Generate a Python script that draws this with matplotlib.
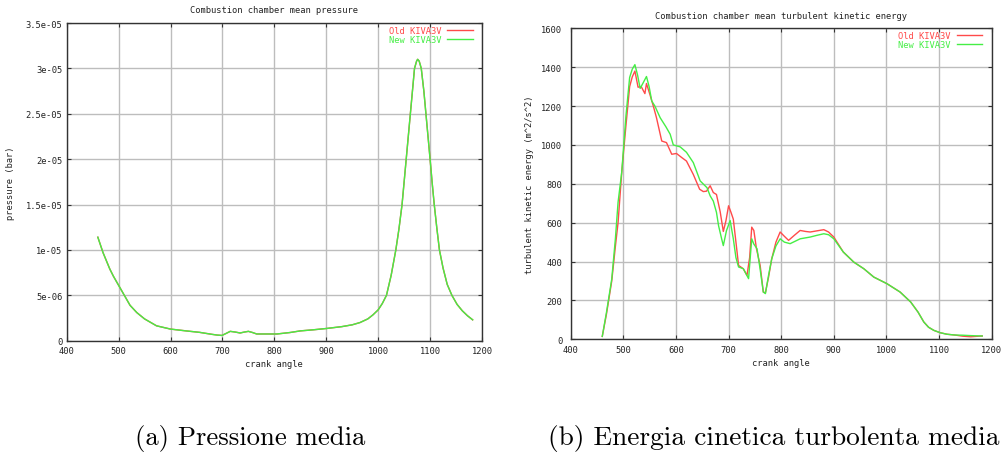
import matplotlib
matplotlib.use("Agg")
import matplotlib.pyplot as plt
import numpy as np

# ---------------- data ----------------
# (a) mean pressure (bar), both runs
p_angle = [460, 470, 483, 490, 501, 510, 522, 535, 550, 573, 600, 630, 656, 680, 690, 699,
           707, 715, 725, 734, 742, 750, 758, 766, 785, 805, 830, 850, 875, 901, 930,
           950, 965, 980, 990, 1000, 1008, 1016, 1025, 1034, 1040, 1046, 1054, 1062,
           1070, 1074, 1076, 1079, 1083, 1088, 1092, 1096, 1100, 1104, 1108, 1113,
           1118, 1125, 1133, 1142, 1152, 1162, 1172, 1182]
p_old = [11.4, 9.7, 7.9, 7.1, 6.0, 5.1, 3.9, 3.1, 2.4, 1.64, 1.28, 1.08, 0.92, 0.70, 0.62, 0.58,
         0.80, 1.03, 0.95, 0.85, 0.95, 1.03, 0.90, 0.74, 0.74, 0.74, 0.90, 1.08, 1.20, 1.35, 1.55,
         1.75, 2.00, 2.40, 2.85, 3.4, 4.1, 5.0, 7.2, 10.0, 12.3, 15.0, 20.0, 25.0,
         30.0, 30.8, 31.0, 30.8, 30.0, 27.5, 25.0, 22.5, 20.0, 17.4, 15.0, 12.4,
         10.0, 8.0, 6.2, 5.0, 4.0, 3.3, 2.75, 2.3]
p_new = list(p_old)

# (b) mean turbulent kinetic energy (m^2/s^2)
k_angle_old = [460, 468, 478, 485, 490, 497, 505, 512, 517, 522, 528, 534, 541, 544, 551, 557,
               563, 568, 573, 582, 592, 601, 611, 620, 633, 645, 652, 658, 665, 671, 677,
               684, 690, 695, 700, 705, 709, 714, 719, 728, 735, 740, 744, 748, 753, 760,
               766, 770, 776, 782, 790, 798, 806, 814, 825, 836, 846, 855, 868, 881, 890,
               900, 918, 938, 957, 976, 1001, 1026, 1046, 1060, 1071, 1080, 1090, 1102,
               1115, 1130, 1145, 1160, 1170, 1182]
k_old = [15, 130, 300, 480, 600, 860, 1100, 1300, 1350, 1380, 1297, 1300, 1264, 1316, 1255, 1200,
         1140, 1080, 1020, 1012, 952, 956, 935, 917, 848, 772, 760, 762, 790, 755, 745,
         657, 555, 610, 687, 650, 618, 500, 380, 363, 329, 420, 577, 560, 466, 380,
         243, 240, 320, 414, 500, 552, 530, 509, 535, 560, 555, 552, 558, 564, 552,
         526, 449, 397, 363, 320, 286, 243, 192, 140, 89, 62, 46, 34,
         26, 22, 16, 13, 15, 17]
k_angle_new = [460, 468, 478, 485, 490, 497, 505, 512, 517, 522, 527, 532, 537, 544, 549, 554,
               560, 570, 581, 589, 595, 608, 620, 633, 646, 659, 665, 671, 677, 681, 687,
               690, 696, 703, 709, 714, 719, 728, 738, 744, 748, 754, 760, 766, 770, 776,
               782, 790, 798, 806, 817, 836, 855, 868, 881, 890, 900, 918, 938, 957, 976,
               1001, 1026, 1046, 1060, 1071, 1080, 1090, 1102, 1115, 1130, 1145, 1160,
               1170, 1182]
k_new = [15, 139, 310, 520, 705, 860, 1150, 1347, 1390, 1413, 1360, 1291, 1316, 1352, 1300, 1226,
         1200, 1140, 1093, 1055, 1000, 990, 962, 909, 815, 780, 738, 711, 653, 584, 515,
         482, 559, 611, 517, 420, 372, 363, 312, 517, 490, 466, 360, 243, 235, 330,
         414, 480, 517, 500, 492, 517, 526, 535, 543, 538, 517, 449, 397, 363, 320,
         286, 243, 192, 140, 89, 62, 46, 34, 26, 22, 21, 19,
         18, 17]

p_yticks = [0, 5e-6, 1e-5, 1.5e-5, 2e-5, 2.5e-5, 3e-5, 3.5e-5]
p_yticklabels = ["0", "5e-06", "1e-05", "1.5e-05", "2e-05", "2.5e-05", "3e-05", "3.5e-05"]
k_yticks = [0, 200, 400, 600, 800, 1000, 1200, 1400, 1600]
x_ticks = [400, 500, 600, 700, 800, 900, 1000, 1100, 1200]

RED = "#ff4a4a"
GREEN = "#45ee45"
MONO = "DejaVu Sans Mono"
FS = 6.3
TXT = "#222222"

W, H = 1005, 456
fig = plt.figure(figsize=(W / 100, H / 100), dpi=100)
fig.patch.set_facecolor("white")


def px_axes(l, r, t, b):
    return fig.add_axes([l / W, (H - b) / H, (r - l) / W, (b - t) / H])


def style(ax, ypad):
    for s in ax.spines.values():
        s.set_color("#333333")
        s.set_linewidth(1.0)
    ax.grid(True, color="#bdbdbd", linewidth=1.0)
    ax.set_axisbelow(True)
    ax.tick_params(direction="in", length=3, width=0.8, colors="#333333",
                   top=True, right=True, labelsize=FS, labelcolor=TXT)
    ax.tick_params(axis="y", pad=ypad)
    ax.tick_params(axis="x", pad=4)
    for lab in ax.get_xticklabels() + ax.get_yticklabels():
        lab.set_fontfamily(MONO)
    ax.set_xlim(400, 1200)
    ax.set_xticks(x_ticks)
    ax.set_xticklabels([str(v) for v in x_ticks], fontfamily=MONO, fontsize=FS, color=TXT)
    ax.set_xlabel("crank angle", fontfamily=MONO, fontsize=FS, color=TXT, labelpad=3)


# ---- (a) pressure ----
ax1 = px_axes(66.7, 482, 24, 341.7)
ax1.plot(p_angle, np.array(p_old) * 1e-6, color=RED, lw=1.0, label="Old KIVA3V")
ax1.plot(p_angle, np.array(p_new) * 1e-6, color=GREEN, lw=1.0, label="New KIVA3V")
ax1.set_ylim(0, 3.5e-5)
ax1.set_yticks(p_yticks)
ax1.set_yticklabels(p_yticklabels, fontfamily=MONO, fontsize=FS, color=TXT)
style(ax1, 3)
ax1.set_ylabel("pressure (bar)", fontfamily=MONO, fontsize=FS, color=TXT)
ax1.yaxis.set_label_coords((15 - 66.7) / 415.3, 0.5)
ax1.text(0.5, 1 + 13 / 317.7, "Combustion chamber mean pressure", transform=ax1.transAxes,
         ha="center", va="center", fontfamily=MONO, fontsize=FS, color=TXT)

# ---- (b) TKE ----
ax2 = px_axes(570.7, 991.7, 29.3, 340.3)
ax2.plot(k_angle_old, k_old, color=RED, lw=1.0, label="Old KIVA3V")
ax2.plot(k_angle_new, k_new, color=GREEN, lw=1.0, label="New KIVA3V")
ax2.set_ylim(0, 1600)
ax2.set_yticks(k_yticks)
ax2.set_yticklabels([str(v) for v in k_yticks], fontfamily=MONO, fontsize=FS, color=TXT)
style(ax2, 6)
ax2.set_ylabel("turbulent kinetic energy (m^2/s^2)", fontfamily=MONO, fontsize=FS, color=TXT)
ax2.yaxis.set_label_coords((534 - 570.7) / 421, 0.5)
ax2.text(0.5, 1 + 12.5 / 311, "Combustion chamber mean turbulent kinetic energy",
         transform=ax2.transAxes, ha="center", va="center", fontfamily=MONO,
         fontsize=FS, color=TXT)

for ax, axw, axh in ((ax1, 415.3, 317.7), (ax2, 421, 311)):
    leg = ax.legend(loc="upper right", bbox_to_anchor=(1 - 9.5 / axw, 1 - 3 / axh),
                    frameon=False, markerfirst=False, borderpad=0, borderaxespad=0,
                    labelspacing=0.0, handlelength=2.9, handletextpad=0.7,
                    prop={"family": MONO, "size": FS}, labelcolor="linecolor")

# captions
fig.text(250 / W, 1 - 439 / H, "(a) Pressione media", ha="center", va="center",
         fontfamily="cmr10", fontsize=19.2)
fig.text(774 / W, 1 - 439 / H, "(b) Energia cinetica turbolenta media", ha="center",
         va="center", fontfamily="cmr10", fontsize=19.7)

fig.savefig("out.png", dpi=100, facecolor="white")
